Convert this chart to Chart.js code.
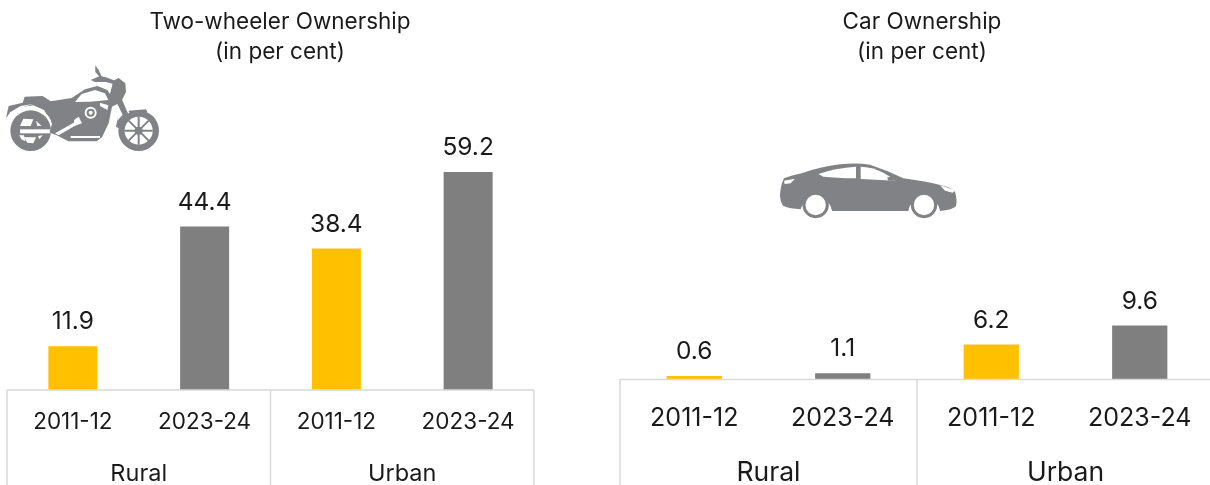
<!DOCTYPE html>
<html><head><meta charset="utf-8">
<script src="https://cdn.jsdelivr.net/npm/chart.js@4"></script>
<style>
html,body{margin:0;padding:0;background:#fff;width:1210px;height:485px;overflow:hidden}
.c{position:absolute;top:0;height:485px}
svg{position:absolute}
</style></head><body>
<div class="c" style="left:0;width:553px"><canvas id="a"></canvas></div>
<div class="c" style="left:610px;width:614px"><canvas id="b"></canvas></div>
<svg style="left:0;top:60px" width="170" height="100" viewBox="0 0 510 300">
 <g fill="#808285">
  <path d="M18 174 26 138 68 128 74 110 128 108 152 124 215 114 255 88 292 78 322 90 330 102 340 62 356 54 376 70 378 96 366 120 392 178 372 186 352 132 336 140 326 190 306 232 290 244 205 244 170 226 150 218 156 190 132 150 100 136 62 142 30 158Z"/>
  <path d="M272 60 300 48 318 52 345 62 340 72 318 66 285 66Z"/>
  <path d="M286 16 296 30 306 52 300 52 286 36Z"/>
  <path d="M385 152 438 148 442 156 392 164Z"/>
  <path d="M366 120 378 150 356 205 348 200 356 160Z"/>
  <circle cx="92" cy="212" r="61"/>
 </g>
 <circle cx="416" cy="212" r="61" fill="#808285"/>
 <circle cx="416" cy="212" r="42" fill="#fff"/>
 <g stroke="#808285" stroke-width="6">
  <path d="M416 170V254M374 212H458M386 182 446 242M446 182 386 242"/>
 </g>
 <circle cx="416" cy="212" r="12" fill="#808285"/>
 <g fill="#fff">
  <path d="M225 126 245 102 285 90 315 100 325 120 270 125Z"/>
  <path d="M60 208H150V220H60Z"/>
  <path d="M60 198 70 176 100 178 92 198Z"/>
  <path d="M108 182 125 198 112 198Z"/>
  <path d="M72 232 108 232 100 250 82 248Z"/><path d="M58 226 72 226 76 244 64 238Z"/>
  <path d="M114 228 128 226 118 238Z"/>
  <path d="M165 220 232 182 238 190 176 226Z"/>
  <path d="M212 228 300 228 300 234 212 234Z"/>
  <path d="M352 132 368 164 352 182 354 155Z"/>
  <path d="M236 170 246 190 222 198 222 180Z"/>
  <path d="M28 158 62 138 100 132 60 144 34 160Z"/>
 </g>
 <path d="M34 172A68 68 0 0 1 152 184" fill="none" stroke="#fff" stroke-width="4"/>
 <circle cx="272" cy="158" r="18" fill="#fff"/><circle cx="272" cy="158" r="12" fill="#808285"/><circle cx="272" cy="158" r="6" fill="#fff"/>
 <path d="M300 128 325 136 322 150 300 138Z" fill="#fff"/>
</svg>
<svg style="left:770px;top:150px" width="200" height="80" viewBox="0 0 600 240">
 <path fill="#808285" d="M30 135Q32 105 42 85Q70 74 95 70Q150 50 210 43Q260 38 300 44Q350 60 400 85Q470 94 530 110Q552 116 556 128Q562 150 558 168Q548 180 510 183A48 48 0 0 0 415 183L186 183A48 48 0 0 0 92 178Q60 176 40 168Q30 155 30 135Z"/>
 <path fill="#fff" d="M145 72Q195 54 258 50L258 85Q195 84 160 80Z"/><path fill="#fff" d="M272 50Q305 50 340 68Q362 80 376 92L272 87Z"/>
 <path fill="#808285" d="M352 82 372 80 374 92 354 92Z"/>
 <path fill="#fff" d="M42 92 75 86 62 100 44 102Z"/><path fill="#fff" d="M510 106 555 120 548 128 525 122Z"/>
 <circle cx="137" cy="165" r="35" fill="#fff" stroke="#808285" stroke-width="9"/>
 <circle cx="462" cy="165" r="35" fill="#fff" stroke="#808285" stroke-width="9"/>
</svg>
<script>
const categories = ['2011-12','2023-24','2011-12','2023-24'];
const groups = ['Rural','Urban'];
const twoWheeler = [11.9,44.4,38.4,59.2];
const car = [0.6,1.1,6.2,9.6];
const colors = ['#FFC000','#7F7F7F','#FFC000','#7F7F7F'];
const FONT = 'Inter';
const TEXT = '#1a1a1a';

const framePlugin = {
  id:'frame',
  afterDraw(chart){
    const {ctx} = chart, x = chart.scales.x, g = chart.scales.g;
    const bottom = chart.height, top = x.top;
    ctx.save();
    ctx.strokeStyle='#d9d9d9'; ctx.lineWidth=1.5;
    ctx.beginPath();
    ctx.moveTo(x.left,top); ctx.lineTo(x.right,top);
    const mid = (g.getPixelForValue(0)+g.getPixelForValue(1))/2;
    [x.left,mid,x.right].forEach(p=>{ctx.moveTo(p,top);ctx.lineTo(p,bottom);});
    ctx.stroke();
    ctx.restore();
  }
};
const valuePlugin = {
  id:'values',
  afterDatasetsDraw(chart,args,opts){
    const {ctx} = chart, ds = chart.data.datasets[0];
    ctx.save();
    ctx.font = opts.size+'px '+FONT; ctx.fillStyle=TEXT; ctx.textAlign='center'; ctx.textBaseline='bottom';
    chart.getDatasetMeta(0).data.forEach((b,i)=>ctx.fillText(ds.data[i].toFixed(1),b.x,b.y-opts.gap));
    ctx.restore();
  }
};
function make(id,values,o){
  new Chart(document.getElementById(id),{
    type:'bar',
    data:{labels:categories,datasets:[{data:values,backgroundColor:colors,barPercentage:1,categoryPercentage:o.bar}]},
    plugins:[framePlugin,valuePlugin],
    options:{
      responsive:true,maintainAspectRatio:false,animation:false,
      layout:{padding:o.padding},
      plugins:{
        legend:{display:false},tooltip:{enabled:false},
        values:{size:o.valueSize,gap:o.gap},
        title:{display:true,text:o.title,color:TEXT,font:{family:FONT,size:22.5,weight:'normal',lineHeight:1.3},padding:{top:8,bottom:0}}
      },
      scales:{
        y:{position:'right',min:0,max:o.max,border:{display:false},grid:{display:false,drawTicks:false},ticks:{display:false},
           afterFit(s){s.width=o.yW;}},
        x:{position:'bottom',border:{display:false},grid:{display:false,drawTicks:false},
           ticks:{color:TEXT,font:{family:FONT,size:o.tickSize},padding:o.tickPad,maxRotation:0,autoSkip:false},
           afterFit(s){s.height=o.xH;}},
        g:{type:'category',labels:groups,position:'bottom',border:{display:false},grid:{display:false,drawTicks:false},
           ticks:{color:TEXT,font:{family:FONT,size:o.groupSize},padding:o.groupPad,maxRotation:0},
           afterFit(s){s.height=o.gH;}}
      }
    }
  });
}
make('a',twoWheeler,{title:['Two-wheeler Ownership','(in per cent)'],max:87.8,bar:0.372,padding:{left:7,right:0,top:0,bottom:0},yW:19,valueSize:24.5,gap:12,tickSize:22.5,tickPad:19,groupPad:20,groupSize:23.5,xH:50,gH:45});
make('b',car,{title:['Car Ownership','(in per cent)'],max:55.6,bar:0.372,padding:{left:10,right:0,top:0,bottom:0},yW:10,valueSize:24.5,gap:12,tickSize:25,tickPad:24,groupPad:21,groupSize:26.5,xH:57,gH:48.5});
</script>
</body></html>
